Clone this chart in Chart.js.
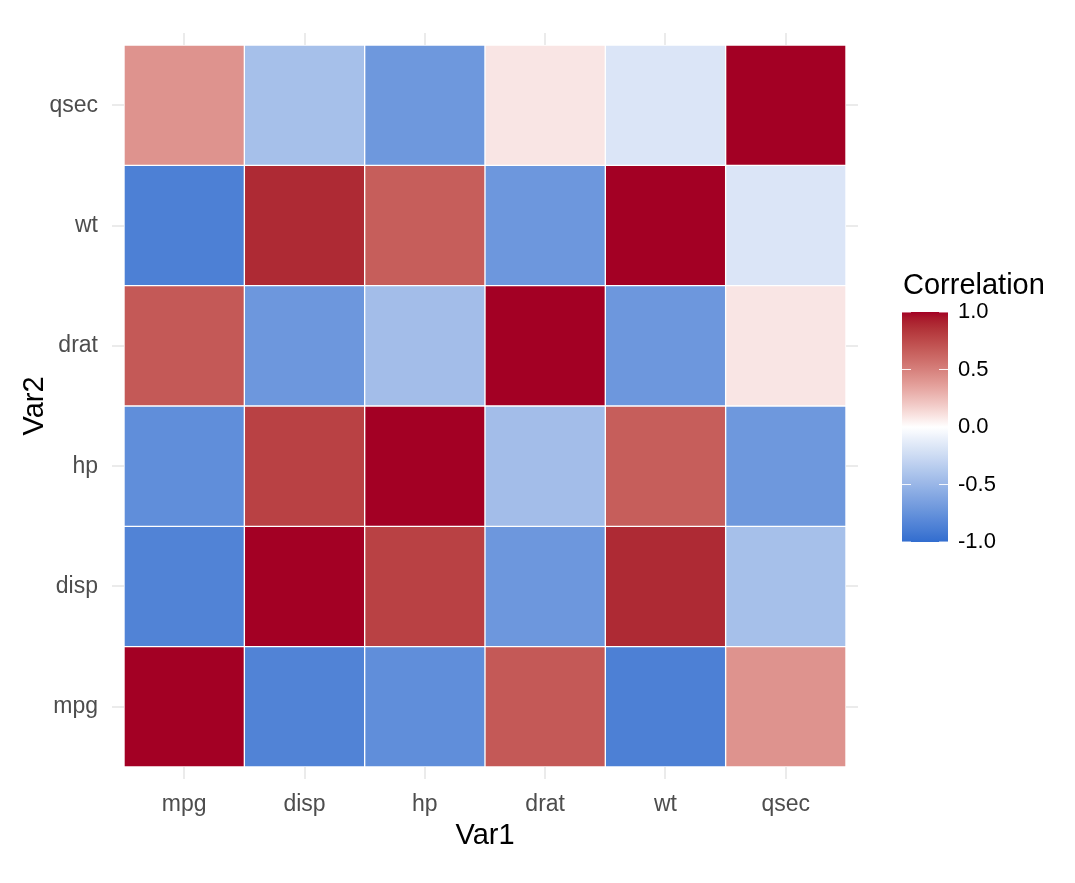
<!DOCTYPE html>
<html><head><meta charset="utf-8">
<script src="https://cdn.jsdelivr.net/npm/chart.js@4/dist/chart.umd.min.js"></script>
<style>html,body{margin:0;padding:0;background:#fff}#wrap{width:1075px;height:883px}</style>
</head><body><div id="wrap"><canvas id="c" width="1075" height="883"></canvas></div>
<script>
const vars = ["mpg","disp","hp","drat","wt","qsec"];
// correlation matrix rows (Var2) by columns (Var1)
const corMpg  = [1.000,-0.848,-0.776, 0.681,-0.868, 0.419];
const corDisp = [-0.848,1.000, 0.791,-0.710, 0.888,-0.434];
const corHp   = [-0.776,0.791, 1.000,-0.449, 0.659,-0.708];
const corDrat = [0.681,-0.710,-0.449, 1.000,-0.712, 0.091];
const corWt   = [-0.868,0.888, 0.659,-0.712, 1.000,-0.175];
const corQsec = [0.419,-0.434,-0.708, 0.091,-0.175, 1.000];
const rows = [corMpg,corDisp,corHp,corDrat,corWt,corQsec];
const legendTicks = [1.0,0.5,0.0,-0.5,-1.0];

const LOW = [0x32,0x6D,0xCF], HIGH = [0xA3,0x00,0x24], MID=[255,255,255];
function toLin(c){c/=255;return c<=0.04045?c/12.92:Math.pow((c+0.055)/1.055,2.4);}
function fromLin(c){c=c<=0.0031308?12.92*c:1.055*Math.pow(c,1/2.4)-0.055;return Math.max(0,Math.min(255,Math.round(c*255)));}
function rgb2lab(rgb){const r=toLin(rgb[0]),g=toLin(rgb[1]),b=toLin(rgb[2]);
 let x=(r*0.4124+g*0.3576+b*0.1805)/0.95047,y=(r*0.2126+g*0.7152+b*0.0722),z=(r*0.0193+g*0.1192+b*0.9505)/1.08883;
 const f=t=>t>0.008856?Math.cbrt(t):7.787*t+16/116;x=f(x);y=f(y);z=f(z);return [116*y-16,500*(x-y),200*(y-z)];}
function lab2rgb(lab){let y=(lab[0]+16)/116,x=lab[1]/500+y,z=y-lab[2]/200;
 const fi=t=>t*t*t>0.008856?t*t*t:(t-16/116)/7.787;x=fi(x)*0.95047;y=fi(y);z=fi(z)*1.08883;
 const r=x*3.2406+y*-1.5372+z*-0.4986,g=x*-0.9689+y*1.8758+z*0.0415,b=x*0.0557+y*-0.2040+z*1.0570;
 return [fromLin(r),fromLin(g),fromLin(b)];}
const labH=rgb2lab(HIGH),labM=rgb2lab(MID);
function colorOf(v){const t=Math.min(1,Math.abs(v));let c;
 if(v<0){c=[0,1,2].map(i=>Math.round(MID[i]+(LOW[i]-MID[i])*t));}
 else{const tt=t*(1+0.25*(1-t));c=lab2rgb([0,1,2].map(i=>labM[i]+(labH[i]-labM[i])*tt));}
 return `rgb(${c[0]},${c[1]},${c[2]})`;}

const datasets = rows.map((row,ri)=>({
  data: row.map((v,ci)=>({x:ci+0.5,y:[ri,ri+1],v:v})),
  backgroundColor: row.map(v=>colorOf(v)),
  borderColor:'#ffffff', borderWidth:1, borderSkipped:false,
  barPercentage:1, categoryPercentage:1, grouped:false
}));

const FONT='"Liberation Sans", Arial, sans-serif';
const colorbar = {
  id:'colorbar',
  afterDraw(chart){
    const ctx=chart.ctx;const x0=902,x1=948,yTop=312,yBot=542;
    const g=ctx.createLinearGradient(0,yTop,0,yBot);
    for(let i=0;i<=40;i++){const v=1-2*i/40;g.addColorStop(i/40,colorOf(v));}
    ctx.save();ctx.fillStyle=g;ctx.fillRect(x0,yTop,x1-x0,yBot-yTop);
    ctx.fillStyle='#000';ctx.font='29px '+FONT;ctx.textBaseline='middle';ctx.textAlign='left';
    ctx.fillText('Correlation',903,286);
    ctx.font='22px '+FONT;
    legendTicks.forEach(v=>{const y=yTop+(1-v)/2*(yBot-yTop);
      ctx.strokeStyle='rgba(255,255,255,0.9)';ctx.lineWidth=1;
      ctx.beginPath();ctx.moveTo(x0,y);ctx.lineTo(x0+9,y);ctx.moveTo(x1-9,y);ctx.lineTo(x1,y);ctx.stroke();
      ctx.fillStyle='#000';ctx.fillText(v.toFixed(1),958,y);});
    ctx.restore();
  }
};

new Chart(document.getElementById('c'),{
  type:'bar',
  data:{datasets},
  options:{
    responsive:false,animation:false,
    layout:{padding:{top:33,right:217,bottom:30,left:18}},
    plugins:{legend:{display:false},tooltip:{enabled:false}},
    scales:{
      x:{type:'linear',min:-0.1,max:6.1,offset:false,
        afterBuildTicks(s){s.ticks=vars.map((_,i)=>({value:i+0.5}));},
        afterFit(s){s.height=74;},
        ticks:{callback:(v)=>vars[Math.round(v-0.5)],color:'#4D4D4D',font:{size:23,family:FONT},padding:12,maxRotation:0,autoSkip:false},
        grid:{color:'#EBEBEB',lineWidth:2,drawTicks:false,offset:false},border:{display:false},
        title:{display:true,text:'Var1',color:'#000',font:{size:29,family:FONT},padding:{top:0,bottom:0}}
      },
      y:{type:'linear',min:-0.1,max:6.1,
        afterBuildTicks(s){s.ticks=vars.map((_,i)=>({value:i+0.5}));},
        afterFit(s){s.width=94;},
        ticks:{callback:(v)=>vars[Math.round(v-0.5)],color:'#4D4D4D',font:{size:23,family:FONT},padding:14,autoSkip:false},
        grid:{color:'#EBEBEB',lineWidth:2,drawTicks:false},border:{display:false},
        title:{display:true,text:'Var2',color:'#000',font:{size:29,family:FONT},padding:{top:0,bottom:0}}
      }
    }
  },
  plugins:[colorbar]
});
</script></body></html>
